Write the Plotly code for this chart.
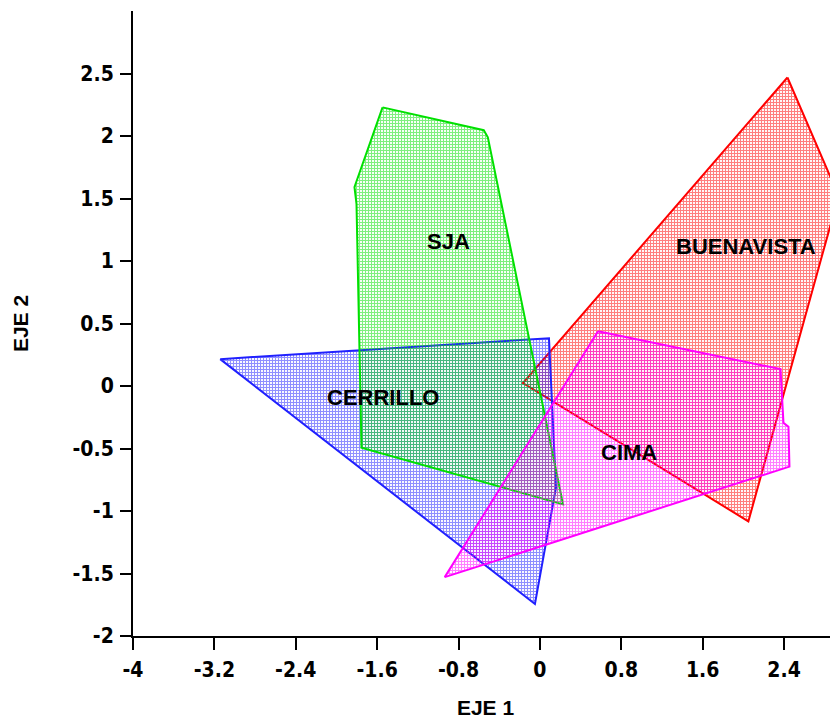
import plotly.graph_objects as go

# Polygon vertices (EJE 1, EJE 2)
cerrillo_x = [-3.143, 0.089, 0.158, -0.049]
cerrillo_y = [0.215, 0.382, -0.812, -1.744]

sja_x = [-1.547, -0.552, -0.512, 0.227, -1.754, -1.803, -1.823]
sja_y = [2.229, 2.046, 1.990, -0.947, -0.494, 1.457, 1.592]

buenavista_x = [2.433, 2.936, 2.049, -0.167]
buenavista_y = [2.468, 1.521, -1.083, 0.024]

cima_x = [0.571, 2.365, 2.394, 2.443, 2.453, -0.936]
cima_y = [0.438, 0.135, -0.295, -0.326, -0.645, -1.529]

label_names = ["SJA", "BUENAVISTA", "CERRILLO", "CIMA"]
label_x = [-0.894, 2.025, -1.543, 0.875]
label_y = [1.155, 1.115, -0.09, -0.53]

x_ticks = [-4, -3.2, -2.4, -1.6, -0.8, 0, 0.8, 1.6, 2.4]
x_ticktext = ["-4", "-3.2", "-2.4", "-1.6", "-0.8", "0", "0.8", "1.6", "2.4"]
y_ticks = [-2, -1.5, -1, -0.5, 0, 0.5, 1, 1.5, 2, 2.5]
y_ticktext = ["-2", "-1.5", "-1", "-0.5", "0", "0.5", "1", "1.5", "2", "2.5"]

groups = [
    ("BUENAVISTA", buenavista_x, buenavista_y, "#ff0000"),
    ("CERRILLO", cerrillo_x, cerrillo_y, "#2020ff"),
    ("SJA", sja_x, sja_y, "#00e000"),
    ("CIMA", cima_x, cima_y, "#ff00ff"),
]

fig = go.Figure()
for name, xs, ys, col in groups:
    fig.add_trace(go.Scatter(
        x=xs + [xs[0]], y=ys + [ys[0]],
        mode="lines", fill="toself", name=name,
        line=dict(color=col, width=2),
        fillcolor="rgba(0,0,0,0)",
        fillpattern=dict(shape="+", fgcolor=col, bgcolor="rgba(0,0,0,0)",
                         size=3, solidity=0.6, fillmode="overlay"),
        showlegend=False, hoverinfo="skip",
    ))

for t, x, y in zip(label_names, label_x, label_y):
    fig.add_annotation(x=x, y=y, text="<b>" + t + "</b>", showarrow=False,
                       font=dict(family="Liberation Sans, Arial", size=22, color="black"))

tick_font = dict(size=21, family="Liberation Sans Narrow, Arial Narrow, DejaVu Sans Condensed, Liberation Sans",
                 weight="bold", color="black")

fig.update_layout(
    width=830, height=715,
    margin=dict(l=125, r=0, t=3, b=87),
    paper_bgcolor="white", plot_bgcolor="white",
    font=dict(family="Liberation Sans, Arial", color="black"),
)
fig.update_xaxes(
    range=[-4, 2.93], tickvals=x_ticks, ticktext=x_ticktext,
    showgrid=False, zeroline=False, showline=True, linecolor="black", linewidth=2,
    ticks="outside", ticklen=12, tickwidth=2, tickcolor="black",
    tickfont=tick_font, ticklabelstandoff=2,
    title=dict(text="<b>EJE 1</b>", font=dict(size=21), standoff=19),
)
fig.update_yaxes(
    range=[-2, 3.0], tickvals=y_ticks, ticktext=y_ticktext,
    showgrid=False, zeroline=False, showline=True, linecolor="black", linewidth=2,
    ticks="outside", ticklen=11, tickwidth=2, tickcolor="black",
    tickfont=tick_font, ticklabelstandoff=2,
    title=dict(text="<b>EJE 2</b>", font=dict(size=21), standoff=38),
)

fig.write_html("out.html")
